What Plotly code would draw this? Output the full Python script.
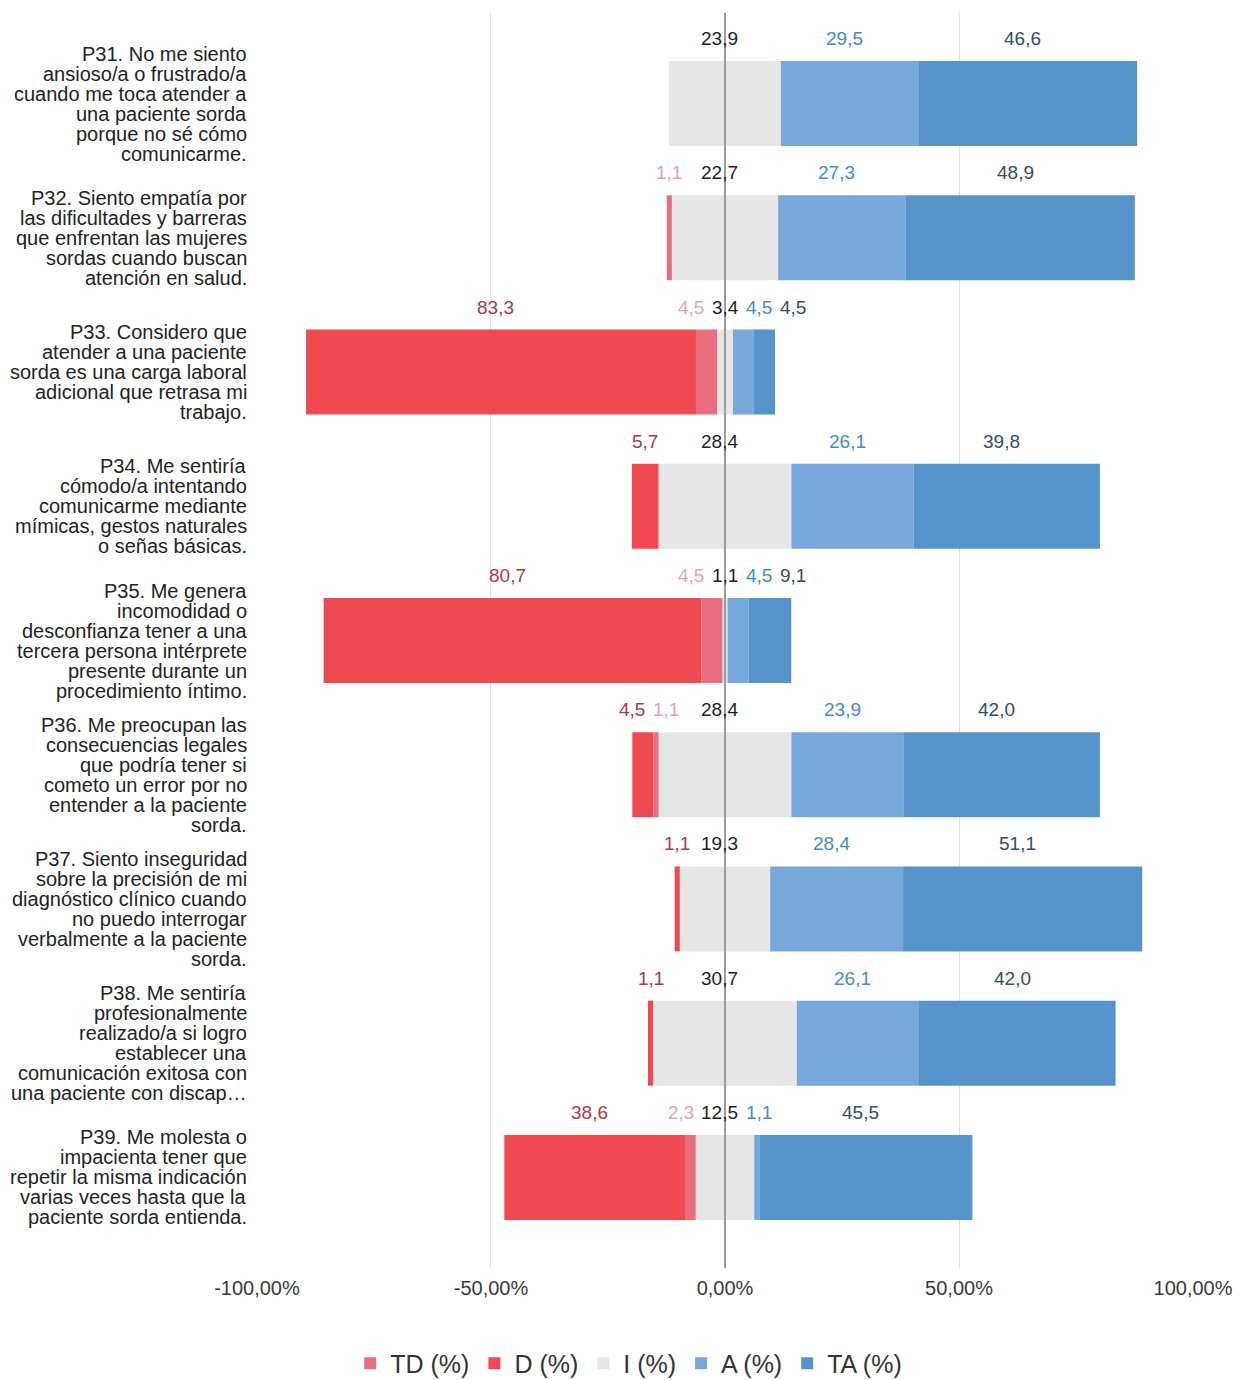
import plotly.graph_objects as go

# ---------------- data ----------------
categories = ["P31", "P32", "P33", "P34", "P35", "P36", "P37", "P38", "P39"]
label_lines = [
    ["P31. No me siento", "ansioso/a o frustrado/a", "cuando me toca atender a",
     "una paciente sorda", "porque no sé cómo", "comunicarme."],
    ["P32. Siento empatía por", "las dificultades y barreras", "que enfrentan las mujeres",
     "sordas cuando buscan", "atención en salud."],
    ["P33. Considero que", "atender a una paciente", "sorda es una carga laboral",
     "adicional que retrasa mi", "trabajo."],
    ["P34. Me sentiría", "cómodo/a intentando", "comunicarme mediante",
     "mímicas, gestos naturales", "o señas básicas."],
    ["P35. Me genera", "incomodidad o", "desconfianza tener a una",
     "tercera persona intérprete", "presente durante un", "procedimiento íntimo."],
    ["P36. Me preocupan las", "consecuencias legales", "que podría tener si",
     "cometo un error por no", "entender a la paciente", "sorda."],
    ["P37. Siento inseguridad", "sobre la precisión de mi", "diagnóstico clínico cuando",
     "no puedo interrogar", "verbalmente a la paciente", "sorda."],
    ["P38. Me sentiría", "profesionalmente", "realizado/a si logro",
     "establecer una", "comunicación exitosa con", "una paciente con discap…"],
    ["P39. Me molesta o", "impacienta tener que", "repetir la misma indicación",
     "varias veces hasta que la", "paciente sorda entienda."],
]
TD = [0, 1.1, 4.5, 0, 4.5, 1.1, 0, 0, 2.3]
D = [0, 0, 83.3, 5.7, 80.7, 4.5, 1.1, 1.1, 38.6]
I = [23.9, 22.7, 3.4, 28.4, 1.1, 28.4, 19.3, 30.7, 12.5]
A = [29.5, 27.3, 4.5, 26.1, 4.5, 23.9, 28.4, 26.1, 1.1]
TA = [46.6, 48.9, 4.5, 39.8, 9.1, 42.0, 51.1, 42.0, 45.5]

tick_vals = [-100, -50, 0, 50, 100]
tick_text = ["-100,00%", "-50,00%", "0,00%", "50,00%", "100,00%"]

# ---------------- style ----------------
W, H = 1250, 1380
ML, MR, MT, MB = 256, 56, 13, 112
XR = [-100.2, 100.2]
FONT = "Liberation Sans, Arial, sans-serif"

bar_colors = {"TD": "#e86e80", "D": "#ef4a50", "I": "#e6e6e6", "A": "#77a8dc", "TA": "#5693ca"}
lab_colors = {"TD": "#e8a2b4", "D": "#aa3a47", "I": "#1e1e1e", "A": "#3f8fc2", "TA": "#2f4f6a"}
LAB_SIZE = 19

fig = go.Figure()
half_I = [v / 2 for v in I]
common = dict(orientation="h", y=categories, hoverinfo="skip", marker_line_width=0)
fig.add_bar(x=[-h for h in half_I], name="I (%)", marker_color=bar_colors["I"],
            legendrank=3, legendgroup="I", **common)
fig.add_bar(x=half_I, name="I (%)", marker_color=bar_colors["I"],
            legendrank=3, legendgroup="I", showlegend=False, **common)
fig.add_bar(x=[-v for v in TD], name="TD (%)", marker_color=bar_colors["TD"], legendrank=1, **common)
fig.add_bar(x=[-v for v in D], name="D (%)", marker_color=bar_colors["D"], legendrank=2, **common)
fig.add_bar(x=A, name="A (%)", marker_color=bar_colors["A"], legendrank=4, **common)
fig.add_bar(x=TA, name="TA (%)", marker_color=bar_colors["TA"], legendrank=5, **common)

# ---------------- data labels ----------------
px_per_unit = (W - ML - MR) / (XR[1] - XR[0])


def fmt(v):
    return f"{v:.1f}".replace(".", ",")


def cw(ch):
    return 0.278 if ch == "," else 0.556


def text_w(s):
    return sum(cw(ch) for ch in s) * LAB_SIZE


def comma_shift(s):
    # offset that puts the decimal comma on the anchor point
    pos = s.index(",")
    before = sum(cw(ch) for ch in s[:pos]) * LAB_SIZE
    return text_w(s) / 2 - (before + 0.139 * LAB_SIZE)


annotations = []
for i, cat in enumerate(categories):
    segs = []
    hi = I[i] / 2
    left = -hi
    for key, arr in (("TD", TD), ("D", D)):
        v = arr[i]
        if v > 0:
            t = fmt(v)
            segs.append([key, (left - v / 2) * px_per_unit + comma_shift(t), t])
            left -= v
    t = fmt(I[i])
    segs.append(["I", comma_shift(t), t])
    right = hi
    for key, arr in (("A", A), ("TA", TA)):
        v = arr[i]
        if v > 0:
            t = fmt(v)
            segs.append([key, (right + v / 2) * px_per_unit + comma_shift(t), t])
            right += v
    segs.sort(key=lambda s: s[1])
    for _ in range(60):
        for j in range(len(segs) - 1):
            a, b = segs[j], segs[j + 1]
            need = (text_w(a[2]) + text_w(b[2])) / 2 + 7.5
            d = b[1] - a[1]
            if d < need:
                deficit = need - d
                if a[0] == "I":
                    b[1] += deficit
                elif b[0] == "I":
                    a[1] -= deficit
                else:
                    a[1] -= deficit / 2
                    b[1] += deficit / 2
    for key, xpx, txt in segs:
        annotations.append(dict(
            x=xpx / px_per_unit, y=cat, xref="x", yref="y", text=txt, showarrow=False,
            xanchor="center", yanchor="middle", yshift=65,
            font=dict(family=FONT, size=LAB_SIZE, color=lab_colors[key])))

    lines = label_lines[i]
    n = len(lines)
    for k, line in enumerate(lines):
        annotations.append(dict(
            x=0, xref="paper", y=cat, yref="y", text=line, showarrow=False,
            xanchor="right", yanchor="middle", xshift=-7, yshift=((n - 1) / 2 - k) * 20,
            font=dict(family=FONT, size=20, color="#232323")))

fig.update_layout(
    width=W, height=H,
    margin=dict(l=ML, r=MR, t=MT, b=MB),
    paper_bgcolor="white", plot_bgcolor="white",
    barmode="relative", bargap=0.367,
    font=dict(family=FONT, color="#333333"),
    annotations=annotations,
    showlegend=True,
    legend=dict(orientation="h", xref="container", yref="container", x=0.503, y=0.012,
                xanchor="center", yanchor="middle", font=dict(size=25, color="#333333"),
                itemwidth=30, traceorder="normal"),
    shapes=[dict(type="line", xref="x", yref="paper", x0=0, x1=0, y0=0, y1=1,
                 line=dict(color="#9a9a9a", width=2), layer="above")],
)
fig.update_xaxes(range=XR, tickvals=tick_vals, ticktext=tick_text, showgrid=True,
                 gridcolor="#e2e2e2", gridwidth=1, zeroline=False, showline=False,
                 ticks="", ticklabelstandoff=6,
                 tickfont=dict(family=FONT, size=20, color="#3a3a3a"))
fig.update_yaxes(type="category", categoryorder="array", categoryarray=categories,
                 range=[8.675, -0.675], showticklabels=False, showgrid=False,
                 zeroline=False, showline=False, ticks="")

fig.write_html("out.html")
